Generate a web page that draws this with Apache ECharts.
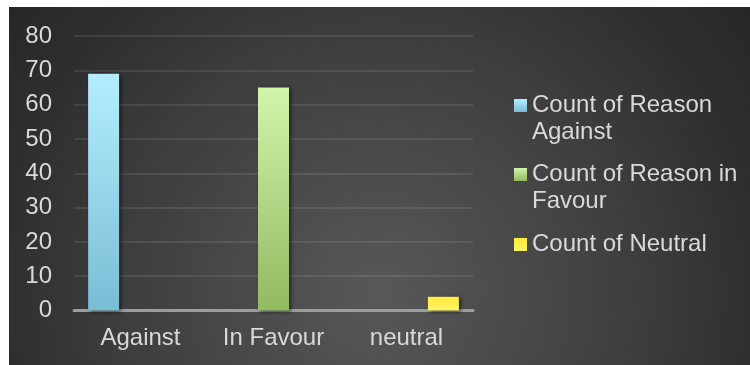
<!DOCTYPE html>
<html>
<head>
<meta charset="utf-8">
<script src="https://cdn.jsdelivr.net/npm/echarts@6/dist/echarts.min.js"></script>
<style>
  html, body { margin: 0; padding: 0; background: #ffffff; width: 750px; height: 365px; overflow: hidden; }
  #chart { position: absolute; left: 9px; top: 7px; width: 741px; height: 358px; }
</style>
</head>
<body>
<div id="chart"></div>
<script>
// Categories on the x axis
const categories = ['Against', 'In Favour', 'neutral'];
// Series names shown in the legend
const seriesNames = ['Count of Reason\nAgainst', 'Count of Reason in\nFavour', 'Count of Neutral'];
// Counts per series ('-' = no bar in that category)
const againstCounts = [69, '-', '-'];
const favourCounts = ['-', 65, '-'];
const neutralCounts = ['-', '-', 4];
// Value axis ticks
const yMin = 0, yMax = 80, yStep = 10;

const FONT = '"Liberation Sans", Arial, sans-serif';
const TEXT = '#d9d9d9';
const FONT_SIZE = 24;

function vGrad(top, bottom) {
  return new echarts.graphic.LinearGradient(0, 0, 0, 1, [
    { offset: 0, color: top },
    { offset: 1, color: bottom }
  ]);
}

const barShadow = {
  shadowBlur: 4,
  shadowColor: 'rgba(0,0,0,0.55)',
  shadowOffsetX: 2,
  shadowOffsetY: 1
};

// One legend block per series; wrapped names get an empty leading line so
// the swatch lines up with the first line of text.
function legendFor(name, top, twoLine) {
  return {
    data: [name],
    left: 505,
    top: top,
    padding: 0,
    orient: 'vertical',
    icon: 'rect',
    itemWidth: 13,
    itemHeight: 13,
    selectedMode: false,
    itemStyle: { shadowBlur: 0, shadowColor: 'transparent' },
    formatter: n => (twoLine ? '\u00a0\n' + n : n),
    textStyle: {
      color: TEXT,
      fontFamily: FONT,
      fontSize: FONT_SIZE,
      lineHeight: 27
    }
  };
}

const chart = echarts.init(document.getElementById('chart'), null, { renderer: 'canvas' });

chart.setOption({
  animation: false,
  backgroundColor: {
    type: 'radial', x: 0.5, y: 0.8, r: 1.31,
    colorStops: [
      { offset: 0, color: '#585858' },
      { offset: 0.35, color: '#474747' },
      { offset: 0.56, color: '#3d3d3d' },
      { offset: 0.8, color: '#2f2f2f' },
      { offset: 1, color: '#272727' }
    ]
  },
  grid: { left: 65, right: 277, top: 29, bottom: 54.5, containLabel: false },
  legend: [
    legendFor(seriesNames[0], 58, true),
    legendFor(seriesNames[1], 127, true),
    legendFor(seriesNames[2], 224, false)
  ],
  xAxis: {
    type: 'category',
    data: categories,
    axisLine: { show: true, lineStyle: { color: '#9d9d9d', width: 3 } },
    axisTick: { show: false },
    axisLabel: { color: TEXT, fontFamily: FONT, fontSize: FONT_SIZE, margin: 16 },
    splitLine: { show: false }
  },
  yAxis: {
    type: 'value',
    min: yMin, max: yMax, interval: yStep,
    axisLine: { show: false },
    axisTick: { show: false },
    axisLabel: { color: TEXT, fontFamily: FONT, fontSize: FONT_SIZE, margin: 22 },
    splitLine: { show: true, lineStyle: { color: 'rgba(255,255,255,0.09)', width: 2 } }
  },
  series: [
    {
      name: seriesNames[0], type: 'bar', data: againstCounts,
      barWidth: 31, barGap: '19%',
      itemStyle: Object.assign({ color: vGrad('#b4edff', '#79bdd4') }, barShadow)
    },
    {
      name: seriesNames[1], type: 'bar', data: favourCounts,
      barWidth: 31, barGap: '19%',
      itemStyle: Object.assign({ color: vGrad('#d0f5ab', '#92ba60') }, barShadow)
    },
    {
      name: seriesNames[2], type: 'bar', data: neutralCounts,
      barWidth: 31, barGap: '19%',
      itemStyle: Object.assign({ color: vGrad('#ffea3f', '#fff562') }, barShadow)
    }
  ]
});
</script>
</body>
</html>
